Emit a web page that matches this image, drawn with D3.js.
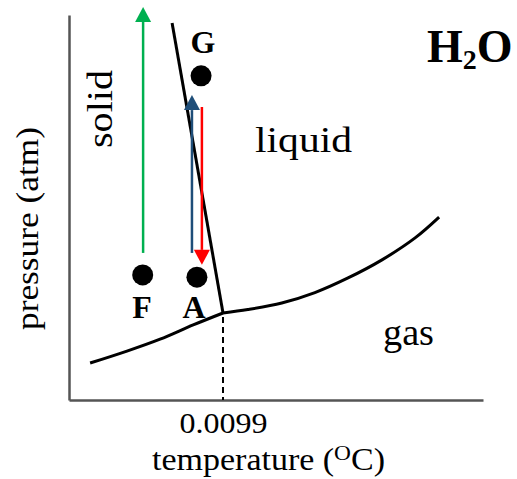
<!DOCTYPE html>
<html>
<head>
<meta charset="utf-8">
<script src="https://cdn.jsdelivr.net/npm/d3@7"></script>
<style>
  body { margin: 0; background: #fff; }
  svg { display: block; }
  text { font-family: 'Liberation Serif', 'Times New Roman', serif; fill: #000; }
</style>
</head>
<body>
<svg width="517" height="479"></svg>
<script>
'use strict'

// phase boundaries in plot units (0..100 on both axes)
const sublimation = [[5.1, 9.6], [14.0, 12.7], [22.0, 15.8], [30.0, 19.5], [37.2, 22.6]]
const vaporization = [[37.2, 22.6], [43.2, 23.5], [51.4, 25.2], [59.4, 27.9], [67.4, 31.7], [75.6, 36.4], [83.6, 42.1], [89.4, 47.5]]
const melting = [[37.2, 22.6], [24.9, 97.9]]
const triplePoint = [37.2, 22.6]
const tickLabels = ['0.0099']

// states
const pointNames = ['F', 'A', 'G']
const pointX = [17.8, 30.9, 31.9]
const pointY = [32.5, 31.9, 84.2]

// arrows: x, from, to
const arrowNames = ['green', 'blue', 'red']
const arrowX = [17.9, 29.7, 32.1]
const arrowFrom = [38.2, 38.2, 76.1]
const arrowTo = [102.1, 79.2, 35.1]
const arrowColors = ['#00b050', '#1f4e79', '#ff0000']

const svg = d3.select('svg')

const x = d3.scaleLinear().domain([0, 100]).range([69, 483])
const y = d3.scaleLinear().domain([0, 100]).range([400, 15])

// axes
const xAxis = svg.append('g')
    .attr('transform', `translate(0, ${y(0)})`)
    .call(d3.axisBottom(x)
        .tickValues([triplePoint[0]])
        .tickFormat((d, i) => tickLabels[i])
        .tickSize(0)
        .tickSizeOuter(0))
xAxis.select('.domain').attr('stroke', '#555').attr('stroke-width', 2.5)
xAxis.selectAll('text')
    .attr('y', 33)
    .attr('dy', 0)
    .attr('font-size', 29)
    .attr('font-family', 'Liberation Serif')
    .attr('textLength', 88)
    .attr('lengthAdjust', 'spacingAndGlyphs')
    .attr('fill', '#000')

const yAxis = svg.append('g')
    .attr('transform', `translate(${x(0)}, 0)`)
    .call(d3.axisLeft(y).tickValues([]).tickSizeOuter(0))
yAxis.select('.domain').attr('stroke', '#555').attr('stroke-width', 2.5)

// dashed drop line from triple point
svg.append('line')
    .attr('x1', x(triplePoint[0]))
    .attr('x2', x(triplePoint[0]))
    .attr('y1', y(triplePoint[1]) + 4)
    .attr('y2', y(0))
    .attr('stroke', '#000')
    .attr('stroke-width', 2)
    .attr('stroke-dasharray', '6,4')

// phase boundary curves
const curve = d3.line()
    .x((d) => x(d[0]))
    .y((d) => y(d[1]))
    .curve(d3.curveCatmullRom)

const straight = d3.line()
    .x((d) => x(d[0]))
    .y((d) => y(d[1]))

svg.append('path').datum(sublimation).attr('d', curve)
    .attr('fill', 'none').attr('stroke', '#000').attr('stroke-width', 3)
svg.append('path').datum(vaporization).attr('d', curve)
    .attr('fill', 'none').attr('stroke', '#000').attr('stroke-width', 3)
svg.append('path').datum(melting).attr('d', straight)
    .attr('fill', 'none').attr('stroke', '#000').attr('stroke-width', 3)

// arrows
const headLen = 15
const headW = 8
arrowNames.forEach((name, i) => {
    const ax = x(arrowX[i])
    const y0 = y(arrowFrom[i])
    const y1 = y(arrowTo[i])
    const dir = y1 < y0 ? 1 : -1
    svg.append('line')
        .attr('x1', ax).attr('x2', ax)
        .attr('y1', y0).attr('y2', y1 + dir * headLen)
        .attr('stroke', arrowColors[i])
        .attr('stroke-width', 2.5)
    svg.append('path')
        .attr('d', `M${ax},${y1} L${ax - headW},${y1 + dir * headLen} L${ax + headW},${y1 + dir * headLen} Z`)
        .attr('fill', arrowColors[i])
})

// state points
svg.selectAll('circle.state')
    .data(pointNames)
    .enter()
    .append('circle')
    .attr('class', 'state')
    .attr('cx', (d, i) => x(pointX[i]))
    .attr('cy', (d, i) => y(pointY[i]))
    .attr('r', 10.5)
    .attr('fill', '#000')

const labelPos = { F: [142, 318], A: [194, 318], G: [203, 53] }
pointNames.forEach((n) => {
    svg.append('text')
        .attr('x', labelPos[n][0])
        .attr('y', labelPos[n][1])
        .attr('text-anchor', 'middle')
        .attr('font-weight', 'bold')
        .attr('font-size', 32)
        .text(n)
})

// region labels
svg.append('text')
    .attr('transform', 'translate(112, 148) rotate(-90)')
    .attr('font-size', 36)
    .attr('textLength', 78)
    .attr('lengthAdjust', 'spacingAndGlyphs')
    .text('solid')

svg.append('text')
    .attr('x', 255).attr('y', 152)
    .attr('font-size', 36)
    .attr('textLength', 97)
    .attr('lengthAdjust', 'spacingAndGlyphs')
    .text('liquid')

svg.append('text')
    .attr('x', 383).attr('y', 345)
    .attr('font-size', 38)
    .attr('textLength', 51)
    .attr('lengthAdjust', 'spacingAndGlyphs')
    .text('gas')

// title
const h2o = svg.append('text')
    .attr('x', 427).attr('y', 62)
    .attr('font-size', 46)
    .attr('font-weight', 'bold')
h2o.append('tspan').text('H')
h2o.append('tspan').attr('font-size', 28).attr('dy', 7).text('2')
h2o.append('tspan').attr('dy', -7).text('O')

// axis labels
svg.append('text')
    .attr('transform', 'translate(38, 330) rotate(-90)')
    .attr('font-size', 32)
    .attr('textLength', 203)
    .attr('lengthAdjust', 'spacingAndGlyphs')
    .text('pressure (atm)')

const tl = svg.append('text')
    .attr('x', 152).attr('y', 470)
    .attr('font-size', 32)
    .attr('textLength', 233)
    .attr('lengthAdjust', 'spacingAndGlyphs')
tl.append('tspan').text('temperature (')
tl.append('tspan').attr('font-size', 22).attr('dy', -10).text('O')
tl.append('tspan').attr('dy', 10).text('C)')
</script>
</body>
</html>
